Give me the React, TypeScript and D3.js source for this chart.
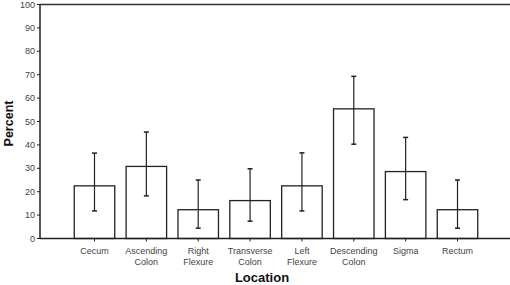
import React from 'react';
import * as d3 from 'd3';

const locations = [
  ['Cecum'],
  ['Ascending', 'Colon'],
  ['Right', 'Flexure'],
  ['Transverse', 'Colon'],
  ['Left', 'Flexure'],
  ['Descending', 'Colon'],
  ['Sigma'],
  ['Rectum'],
];
const percent = [22.5, 30.8, 12.3, 16.2, 22.5, 55.4, 28.6, 12.3];
const upper = [36.5, 45.5, 25.0, 29.8, 36.6, 69.3, 43.2, 25.0];
const lower = [11.8, 18.2, 4.4, 7.4, 11.8, 40.3, 16.6, 4.4];
const yTicks = [0, 10, 20, 30, 40, 50, 60, 70, 80, 90, 100];

const W = 510;
const H = 285;
const left = 40;
const top = 4.5;
const bottom = 238.5;

export default function App() {
  const keys = locations.map((l) => l.join(' '));
  const x = d3.scalePoint<string>().domain(keys).range([94.5, 457.5]);
  const y = d3.scaleLinear().domain([0, 100]).range([bottom, top]);
  const barW = 40.5;
  const font = '"Liberation Sans", Arial, sans-serif';

  return (
    <svg width={W} height={H} style={{ position: 'absolute', left: 0, top: 0 }} fontFamily={font}>
      <rect width={W} height={H} fill="#fff" />
      {/* bars */}
      {percent.map((v, i) => (
        <rect
          key={keys[i]}
          x={x(keys[i])! - barW / 2}
          y={y(v)}
          width={barW}
          height={y(0) - y(v)}
          fill="#fff"
          stroke="#222"
          strokeWidth={1.3}
        />
      ))}
      {/* error bars */}
      {percent.map((_, i) => {
        const cx = x(keys[i])!;
        return (
          <g key={'e' + i} stroke="#222" strokeWidth={1.2}>
            <line x1={cx} x2={cx} y1={y(upper[i])} y2={y(lower[i])} />
            <line x1={cx - 2.5} x2={cx + 2.5} y1={y(upper[i])} y2={y(upper[i])} strokeWidth={1.5} />
            <line x1={cx - 2.5} x2={cx + 2.5} y1={y(lower[i])} y2={y(lower[i])} strokeWidth={1.5} />
          </g>
        );
      })}
      {/* frame: top and left, x axis */}
      <line x1={left} x2={W} y1={top} y2={top} stroke="#333" strokeWidth={1.6} />
      <line x1={left} x2={left} y1={top} y2={bottom} stroke="#222" strokeWidth={1.5} />
      <line x1={left} x2={W} y1={bottom} y2={bottom} stroke="#222" strokeWidth={1.5} />
      {/* y ticks */}
      {yTicks.map((t) => (
        <g key={t}>
          <line x1={left - 3} x2={left} y1={y(t)} y2={y(t)} stroke="#222" />
          <text x={left - 5} y={y(t)} dy="0.35em" textAnchor="end" fontSize={9} fill="#444">
            {t}
          </text>
        </g>
      ))}
      {/* x ticks and labels */}
      {locations.map((lines, i) => {
        const cx = x(keys[i])!;
        return (
          <g key={'x' + i}>
            <line x1={cx} x2={cx} y1={bottom} y2={bottom + 3} stroke="#222" />
            {lines.map((s, j) => (
              <text key={j} x={cx} y={254 + j * 11} textAnchor="middle" fontSize={9} fill="#444">
                {s}
              </text>
            ))}
          </g>
        );
      })}
      <text
        transform={`translate(13,${(top + bottom) / 2 + 2}) rotate(-90)`}
        textAnchor="middle"
        fontSize={12.5}
        fontWeight="bold"
        fill="#111"
      >
        Percent
      </text>
      <text x={262} y={282} textAnchor="middle" fontSize={13} fontWeight="bold" fill="#111">
        Location
      </text>
    </svg>
  );
}
